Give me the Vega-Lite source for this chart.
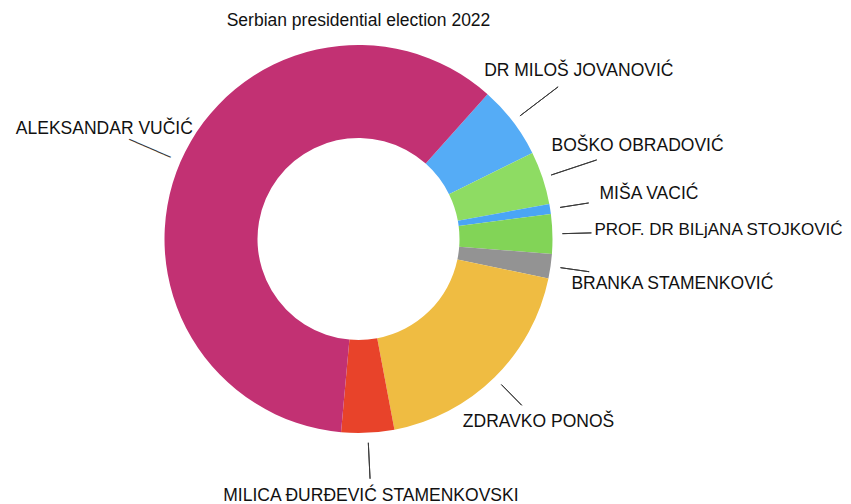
{
  "$schema": "https://vega.github.io/schema/vega-lite/v6.json",
  "width": 717,
  "height": 418,
  "autosize": {"type": "none"},
  "padding": {"left": 0, "top": 30, "right": 134, "bottom": 56},
  "background": "white",
  "config": {"view": {"stroke": null}},
  "title": {
    "text": "Serbian presidential election 2022",
    "font": "Liberation Sans",
    "fontSize": 17.5,
    "fontWeight": "normal",
    "color": "#111111",
    "anchor": "middle",
    "frame": "group",
    "baseline": "alphabetic",
    "offset": -13
  },
  "data": {
    "values": [
      {"name": "DR MILOŠ JOVANOVIĆ", "pct": 6.10},
      {"name": "BOŠKO OBRADOVIĆ", "pct": 4.43},
      {"name": "MIŠA VACIĆ", "pct": 0.83},
      {"name": "PROF. DR BILjANA STOJKOVIĆ", "pct": 3.28},
      {"name": "BRANKA STAMENKOVIĆ", "pct": 2.04},
      {"name": "ZDRAVKO PONOŠ", "pct": 18.77},
      {"name": "MILICA ĐURĐEVIĆ STAMENKOVSKI", "pct": 4.40},
      {"name": "ALEKSANDAR VUČIĆ", "pct": 60.15}
    ]
  },
  "transform": [{"window": [{"op": "row_number", "as": "idx"}]}],
  "layer": [
    {
      "mark": {"type": "arc", "outerRadius": 194, "innerRadius": 101},
      "encoding": {
        "theta": {"field": "pct", "type": "quantitative", "stack": true, "scale": {"range": [0.7278, 7.0110]}},
        "order": {"field": "idx", "type": "quantitative"},
        "color": {
          "field": "name",
          "type": "nominal",
          "legend": null,
          "scale": {
            "domain": ["DR MILOŠ JOVANOVIĆ", "BOŠKO OBRADOVIĆ", "MIŠA VACIĆ", "PROF. DR BILjANA STOJKOVIĆ", "BRANKA STAMENKOVIĆ", "ZDRAVKO PONOŠ", "MILICA ĐURĐEVIĆ STAMENKOVSKI", "ALEKSANDAR VUČIĆ"],
            "range": ["#55ACF6", "#8EDC63", "#4AA5F5", "#82D457", "#939393", "#EFBC42", "#E8432A", "#C23173"]
          }
        }
      }
    },
    {
      "mark": {"type": "arc", "outerRadius": 233, "innerRadius": 204, "padAngle": 3.1416, "filled": false, "stroke": "#3a3a3a", "strokeWidth": 1},
      "encoding": {
        "theta": {"field": "pct", "type": "quantitative", "stack": true},
        "order": {"field": "idx", "type": "quantitative"},
        "detail": {"field": "name"},
        "strokeOpacity": {"condition": {"test": "indexof(['MIŠA VACIĆ','PROF. DR BILjANA STOJKOVIĆ','BRANKA STAMENKOVIĆ','ZDRAVKO PONOŠ'], datum.name) >= 0", "value": 1}, "value": 0}
      }
    },
    {
      "mark": {"type": "arc", "outerRadius": 240, "innerRadius": 204, "padAngle": 3.1416, "filled": false, "stroke": "#3a3a3a", "strokeWidth": 1},
      "encoding": {
        "theta": {"field": "pct", "type": "quantitative", "stack": true},
        "order": {"field": "idx", "type": "quantitative"},
        "detail": {"field": "name"},
        "strokeOpacity": {"condition": {"test": "datum.name === 'MILICA ĐURĐEVIĆ STAMENKOVSKI'", "value": 1}, "value": 0}
      }
    },
    {
      "mark": {"type": "arc", "outerRadius": 251, "innerRadius": 203, "padAngle": 3.1416, "filled": false, "stroke": "#3a3a3a", "strokeWidth": 1},
      "encoding": {
        "theta": {"field": "pct", "type": "quantitative", "stack": true},
        "order": {"field": "idx", "type": "quantitative"},
        "detail": {"field": "name"},
        "strokeOpacity": {"condition": {"test": "indexof(['DR MILOŠ JOVANOVIĆ','BOŠKO OBRADOVIĆ'], datum.name) >= 0", "value": 1}, "value": 0}
      }
    },
    {
      "mark": {"type": "text", "radius": 227.5, "angle": 23.4, "font": "DejaVu Sans Mono", "fontSize": 12.5, "fill": "#3a3a3a", "align": "center", "baseline": "middle"},
      "encoding": {
        "theta": {"field": "pct", "type": "quantitative", "stack": true},
        "order": {"field": "idx", "type": "quantitative"},
        "detail": {"field": "name"},
        "text": {"condition": {"test": "datum.name === 'ALEKSANDAR VUČIĆ'", "value": "──────"}, "value": ""}
      }
    },
    {
      "mark": {"type": "text", "radius": 257, "font": "Liberation Sans", "fontSize": 17.5, "fill": "#111111", "align": "center", "baseline": "middle"},
      "encoding": {
        "theta": {"field": "pct", "type": "quantitative", "stack": true},
        "order": {"field": "idx", "type": "quantitative"},
        "detail": {"field": "name"},
        "text": {"condition": {"test": "indexof(['ZDRAVKO PONOŠ','MILICA ĐURĐEVIĆ STAMENKOVSKI'], datum.name) >= 0", "field": "name"}, "value": ""}
      }
    },
    {
      "mark": {"type": "text", "radius": 277, "font": "Liberation Sans", "fontSize": 17.5, "fill": "#111111", "align": "center", "baseline": "middle"},
      "encoding": {
        "theta": {"field": "pct", "type": "quantitative", "stack": true},
        "order": {"field": "idx", "type": "quantitative"},
        "detail": {"field": "name"},
        "text": {"condition": {"test": "indexof(['DR MILOŠ JOVANOVIĆ','ALEKSANDAR VUČIĆ'], datum.name) >= 0", "field": "name"}, "value": ""}
      }
    },
    {
      "mark": {"type": "text", "radius": 294, "font": "Liberation Sans", "fontSize": 17.5, "fill": "#111111", "align": "center", "baseline": "middle"},
      "encoding": {
        "theta": {"field": "pct", "type": "quantitative", "stack": true},
        "order": {"field": "idx", "type": "quantitative"},
        "detail": {"field": "name"},
        "text": {"condition": {"test": "indexof(['BOŠKO OBRADOVIĆ','MIŠA VACIĆ'], datum.name) >= 0", "field": "name"}, "value": ""}
      }
    },
    {
      "mark": {"type": "text", "radius": 317, "font": "Liberation Sans", "fontSize": 17.5, "fill": "#111111", "align": "center", "baseline": "middle"},
      "encoding": {
        "theta": {"field": "pct", "type": "quantitative", "stack": true},
        "order": {"field": "idx", "type": "quantitative"},
        "detail": {"field": "name"},
        "text": {"condition": {"test": "datum.name === 'BRANKA STAMENKOVIĆ'", "field": "name"}, "value": ""}
      }
    },
    {
      "mark": {"type": "text", "radius": 236, "dy": -3, "font": "Liberation Sans", "fontSize": 17, "fill": "#111111", "align": "left", "baseline": "middle"},
      "encoding": {
        "theta": {"field": "pct", "type": "quantitative", "stack": true},
        "order": {"field": "idx", "type": "quantitative"},
        "detail": {"field": "name"},
        "text": {"condition": {"test": "datum.name === 'PROF. DR BILjANA STOJKOVIĆ'", "field": "name"}, "value": ""}
      }
    }
  ]
}
